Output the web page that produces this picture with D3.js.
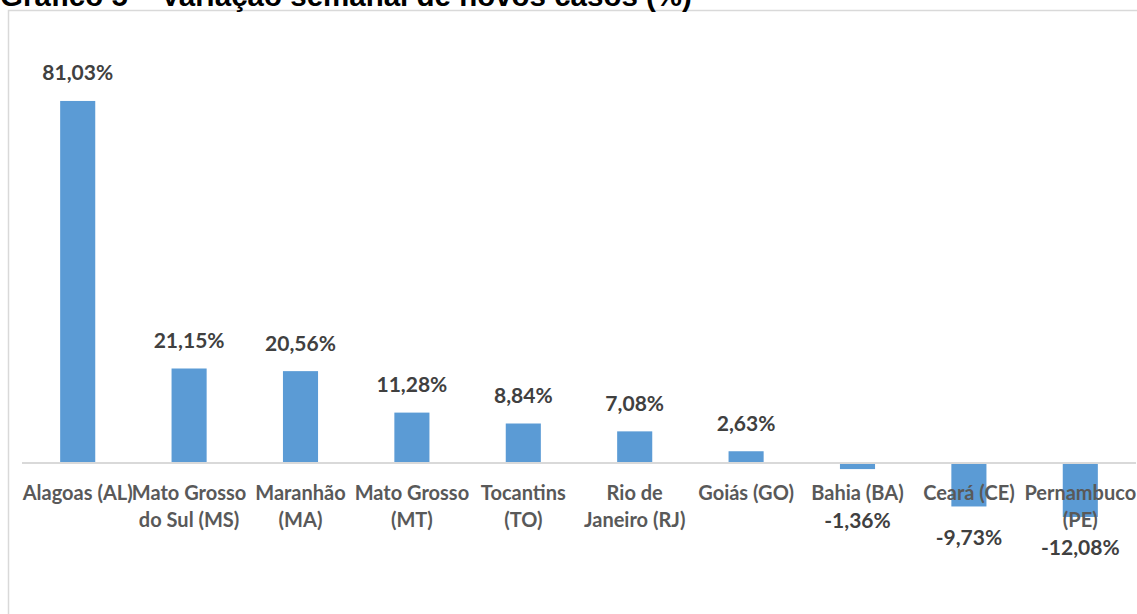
<!DOCTYPE html>
<html>
<head>
<meta charset="utf-8">
<script src="https://cdn.jsdelivr.net/npm/d3@7"></script>
<style>
  body { margin: 0; background: #fff; }
  svg { display: block; }
</style>
</head>
<body>
<div id="chart_div"></div>
<script>
let title = "Gráfico 5 – Variação semanal de novos casos (%)";
let states = ["AL", "MS", "MA", "MT", "TO", "RJ", "GO", "BA", "CE", "PE"];
let state_labels = [
    ["Alagoas (AL)"],
    ["Mato Grosso", "do Sul (MS)"],
    ["Maranhão", "(MA)"],
    ["Mato Grosso", "(MT)"],
    ["Tocantins", "(TO)"],
    ["Rio de", "Janeiro (RJ)"],
    ["Goiás (GO)"],
    ["Bahia (BA)"],
    ["Ceará (CE)"],
    ["Pernambuco", "(PE)"]
];
let variation = [81.03, 21.15, 20.56, 11.28, 8.84, 7.08, 2.63, -1.36, -9.73, -12.08];

let width = 1137, height = 614;
let margin = {left: 22, right: 1, zero: 463};

document.addEventListener('DOMContentLoaded', function () {
    let svg = d3.select("#chart_div")
        .append("svg")
        .attr("width", width)
        .attr("height", height);

    // chart frame (cut off on right and bottom)
    svg.append("rect")
        .attr("x", 8.5)
        .attr("y", 10.5)
        .attr("width", width)
        .attr("height", height)
        .attr("fill", "none")
        .attr("stroke", "#d9d9d9")
        .attr("stroke-width", 1.5);

    svg.append("text")
        .attr("x", 0)
        .attr("y", 6)
        .style("font-family", "'Liberation Sans', Arial, sans-serif")
        .style("font-weight", "bold")
        .style("font-size", "29.5px")
        .style("fill", "#000")
        .text(title);

    const x = d3.scaleBand()
        .domain(states)
        .range([margin.left, width - margin.right])
        .paddingInner(0.685)
        .paddingOuter(0.685 / 2);

    const y = d3.scaleLinear()
        .domain([-15, 85])
        .range([margin.zero + 15 * 4.468, margin.zero - 85 * 4.468]);

    const data = states.map((s, i) => ({state: s, value: variation[i], label: state_labels[i]}));

    svg.append("g")
        .selectAll("rect")
        .data(data)
        .join("rect")
        .attr("x", d => x(d.state))
        .attr("width", x.bandwidth())
        .attr("y", d => y(Math.max(0, d.value)))
        .attr("height", d => Math.abs(y(d.value) - y(0)))
        .attr("fill", "#5b9bd5");

    // zero axis line
    svg.append("line")
        .attr("x1", margin.left)
        .attr("x2", width - margin.right)
        .attr("y1", y(0))
        .attr("y2", y(0))
        .attr("stroke", "#d9d9d9")
        .attr("stroke-width", 2);

    const fmt = v => d3.format(".2f")(v).replace(".", ",").replace("−", "-") + "%";

    // category labels
    svg.append("g")
        .selectAll("text")
        .data(data)
        .join("text")
        .attr("text-anchor", "middle")
        .attr("dominant-baseline", "central")
        .style("font-family", "Lato, 'Open Sans', sans-serif")
        .style("font-weight", "bold")
        .style("font-size", "20px")
        .style("fill", "#595959")
        .each(function (d) {
            d3.select(this).selectAll("tspan")
                .data(d.label)
                .join("tspan")
                .attr("x", x(d.state) + x.bandwidth() / 2)
                .attr("y", (l, i) => y(0) + 29 + i * 26.5)
                .text(l => l);
        });

    // value labels
    svg.append("g")
        .selectAll("text")
        .data(data)
        .join("text")
        .attr("text-anchor", "middle")
        .attr("dominant-baseline", "central")
        .attr("x", d => x(d.state) + x.bandwidth() / 2)
        .attr("y", d => d.value >= 0 ? y(d.value) - 29 : Math.max(y(d.value) + 30, y(0) + 56))
        .style("font-family", "Lato, 'Open Sans', sans-serif")
        .style("font-weight", "bold")
        .style("font-size", "21px")
        .style("fill", "#404040")
        .text(d => fmt(d.value));
});
</script>
</body>
</html>
